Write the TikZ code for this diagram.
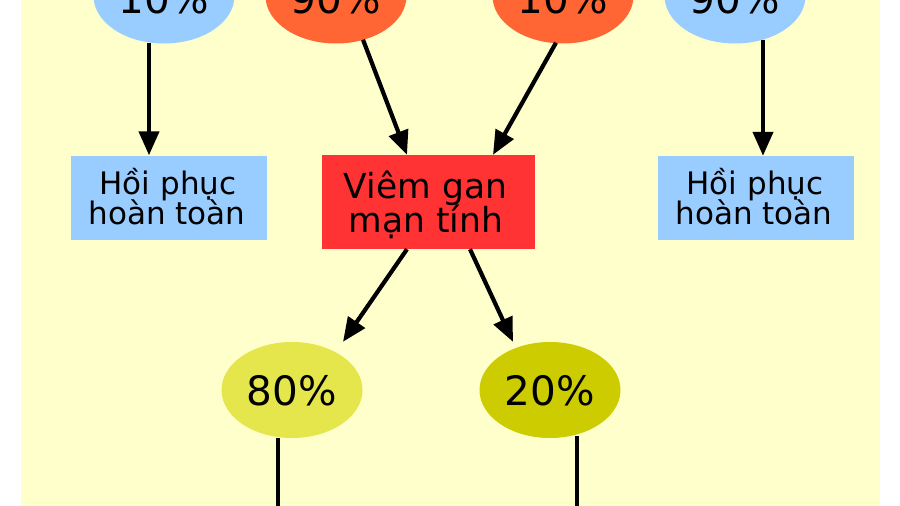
\documentclass[tikz,border=0pt]{standalone}
\usepackage{fontspec}
\setmainfont{DejaVu Sans}
\usetikzlibrary{arrows.meta,shapes.geometric}
\definecolor{bgyellow}{HTML}{FFFFCC}
\definecolor{lblue}{HTML}{99CCFF}
\definecolor{orng}{HTML}{FF6633}
\definecolor{redbox}{HTML}{FF3333}
\definecolor{ylw}{HTML}{E5E54C}
\definecolor{olive}{HTML}{CCCC00}
\tikzset{
  pct/.style={ellipse,draw=none,minimum width=141pt,minimum height=95pt,inner sep=0pt,font=\fontsize{40.5}{40}\selectfont,text depth=0pt},
  toppct/.style={pct,text height=34pt},
  botpct/.style={pct,minimum height=96pt,text height=30pt},
  boxnode/.style={rectangle,draw=none,inner sep=0pt},
  boxtxt/.style={anchor=base,inner sep=0pt,font=\fontsize{31}{31}\selectfont},
  redtxt/.style={anchor=base,inner sep=0pt,font=\fontsize{34.5}{34}\selectfont},
  arr/.style={line width=4.2pt,-{Triangle[length=24pt,width=20pt]}},
  plain/.style={line width=4.2pt}
}
\begin{document}
\begin{tikzpicture}[x=1pt,y=-1pt]
\useasboundingbox (0,0) rectangle (900,506);
\clip (0,0) rectangle (900,506);
\fill[white] (0,0) rectangle (900,506);
\fill[bgyellow] (20.5,-10) rectangle (880,520);

% top ellipses
\node[toppct,fill=lblue] (e1) at (164,-4) {10\%};
\node[toppct,fill=orng] (e2) at (336,-4) {90\%};
\node[toppct,fill=orng] (e3) at (563,-4) {10\%};
\node[toppct,fill=lblue] (e4) at (735,-4) {90\%};

% boxes
\node[boxnode,fill=lblue,minimum width=196pt,minimum height=84pt] (b1) at (169,197.5) {};
\node[boxtxt] (b1a) at (168,194) {Hồi phục};
\node[boxtxt] (b1b) at (167,224) {hoàn toàn};

\node[boxnode,fill=redbox,minimum width=213pt,minimum height=94pt] (b2) at (428.5,202) {};
\node[redtxt] (b2a) at (425.5,198) {Viêm gan};
\node[redtxt] (b2b) at (426,232) {mạn tính};

\node[boxnode,fill=lblue,minimum width=196pt,minimum height=84pt] (b3) at (756,198) {};
\node[boxtxt] (b3a) at (755,194.5) {Hồi phục};
\node[boxtxt] (b3b) at (754,224.5) {hoàn toàn};

% bottom ellipses
\node[botpct,fill=ylw] (e5) at (292,390) {80\%};
\node[botpct,fill=olive] (e6) at (550,390) {20\%};

\coordinate (c5) at (278,530);
\coordinate (c6) at (577,530);

% connectors
\draw[arr] ([xshift=-15pt,yshift=1pt]e1.south) -- ([xshift=-20pt]b1.north);
\draw[arr] ([xshift=27pt,yshift=4pt]e2.south) -- ([xshift=-21.5pt]b2.north);
\draw[arr] ([xshift=-7pt,yshift=1pt]e3.south) -- ([xshift=64.5pt]b2.north);
\draw[arr] ([xshift=28pt,yshift=4pt]e4.south) -- ([xshift=7pt]b3.north);
\draw[arr] ([xshift=-21.5pt]b2.south) -- ([xshift=51pt]e5.north);
\draw[arr] ([xshift=41.5pt]b2.south) -- ([xshift=-37pt]e6.north);
\draw[plain] ([xshift=-14pt]e5.south) -- (c5);
\draw[plain] ([xshift=27pt,yshift=2pt]e6.south) -- (c6);
\end{tikzpicture}
\end{document}
